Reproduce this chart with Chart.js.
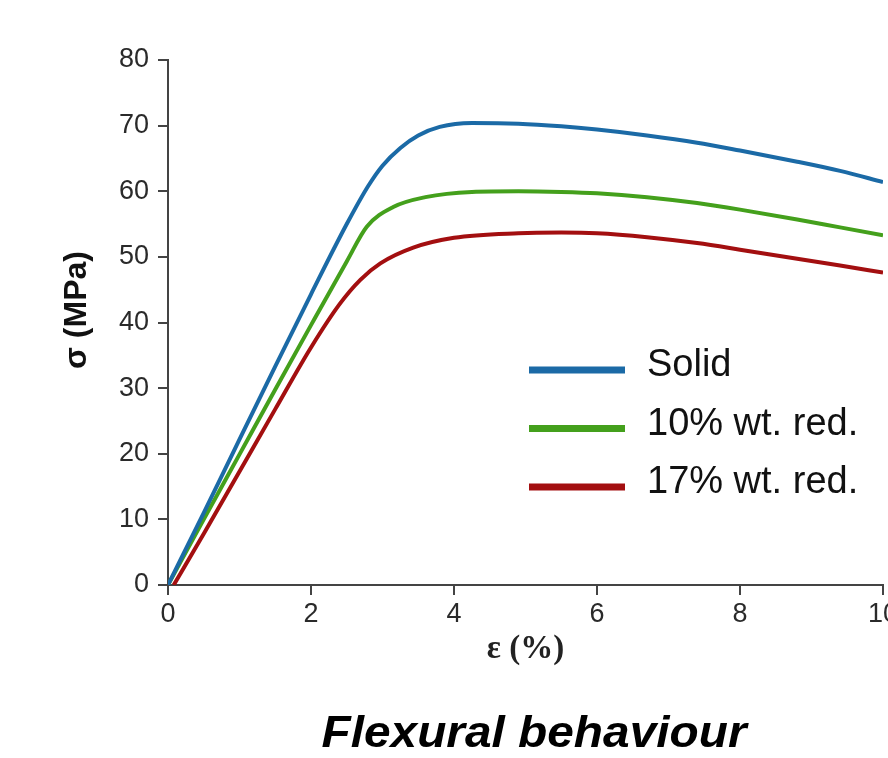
<!DOCTYPE html>
<html>
<head>
<meta charset="utf-8">
<script src="https://cdn.jsdelivr.net/npm/chart.js@4.4.1/dist/chart.umd.min.js"></script>
<style>
  html, body { margin: 0; padding: 0; background: #fff; overflow: hidden; }
  #wrap { position: relative; width: 930px; height: 758px; }
</style>
</head>
<body>
<div id="wrap"><canvas id="myChart"></canvas></div>
<script>
// values
var solidStrain = [0, 0.5, 1, 1.5, 2, 2.5, 2.8, 3, 3.25, 3.5, 3.8, 4.25, 4.9, 5.5, 6, 6.7, 7.4, 8, 8.8, 9.4, 10];
var solidStress = [0, 11, 22.2, 33.3, 44.3, 55, 60.8, 63.9, 66.6, 68.5, 69.8, 70.4, 70.3, 69.9, 69.4, 68.5, 67.4, 66.2, 64.5, 63.1, 61.4];

var tenStrain = [0, 0.5, 1, 1.5, 2, 2.5, 2.78, 3.15, 3.6, 4.25, 4.9, 5.5, 6, 6.7, 7.4, 8, 8.8, 9.4, 10];
var tenStress = [0, 10, 19.9, 29.8, 39.6, 49.3, 54.6, 57.6, 59.1, 59.9, 60, 59.9, 59.7, 59.1, 58.2, 57.2, 55.7, 54.5, 53.3];

var seventeenStrain = [0.08, 0.5, 1, 1.5, 2, 2.4, 2.69, 2.97, 3.43, 4, 4.9, 5.5, 6, 6.7, 7.4, 8, 8.8, 9.4, 10];
var seventeenStress = [0, 7.8, 17.3, 26.8, 36.2, 42.8, 46.5, 49, 51.4, 52.9, 53.6, 53.7, 53.6, 53.0, 52.1, 51.1, 49.7, 48.7, 47.6];

var seriesLabels = ["Solid", "10% wt. red.", "17% wt. red."];
var seriesColors = ["#1b6aa6", "#44a01c", "#a30f10"];
var xTicks = [0, 2, 4, 6, 8, 10];
var yTicks = [0, 10, 20, 30, 40, 50, 60, 70, 80];
var chartTitle = "Flexural behaviour";
var yTitle = "σ (MPa)";

function pairs(xs, ys) {
  var out = [];
  for (var i = 0; i < xs.length; i++) {
    out.push({x: xs[i], y: ys[i]});
  }
  return out;
}

var allData = [
  pairs(solidStrain, solidStress),
  pairs(tenStrain, tenStress),
  pairs(seventeenStrain, seventeenStress)
];

var datasets = [];
for (var i = 0; i < allData.length; i++) {
  datasets.push({
    label: seriesLabels[i],
    data: allData[i],
    borderColor: seriesColors[i],
    backgroundColor: seriesColors[i],
    borderWidth: 4,
    pointRadius: 0,
    fill: false,
    cubicInterpolationMode: 'monotone'
  });
}

// legend inside the plot, y title and the caption, placed like the figure
var extras = {
  id: 'extras',
  afterDraw: function(chart) {
    var ctx = chart.ctx;
    ctx.save();
    chart.data.datasets.forEach(function(ds, k) {
      var y = 370 + k * 58.5;
      ctx.strokeStyle = ds.borderColor;
      ctx.lineWidth = 7;
      ctx.beginPath();
      ctx.moveTo(529, y);
      ctx.lineTo(625, y);
      ctx.stroke();
      ctx.fillStyle = '#111';
      ctx.font = '38px "Liberation Sans", Arial, sans-serif';
      ctx.textBaseline = 'middle';
      ctx.textAlign = 'left';
      ctx.fillText(ds.label, 647, y - 4);
    });
    ctx.restore();

    // y axis title
    ctx.save();
    ctx.translate(77, 310);
    ctx.rotate(-Math.PI / 2);
    ctx.font = 'bold 32px "Liberation Sans", Arial, sans-serif';
    ctx.fillStyle = '#111';
    ctx.textAlign = 'center';
    ctx.textBaseline = 'middle';
    ctx.fillText(yTitle, 0, 0);
    ctx.restore();

    // caption
    ctx.save();
    ctx.font = 'italic bold 44px "Liberation Sans", Arial, sans-serif';
    ctx.fillStyle = '#000';
    ctx.textBaseline = 'alphabetic';
    ctx.textAlign = 'center';
    var w = ctx.measureText(chartTitle).width;
    ctx.translate(534, 747);
    ctx.scale(425 / w, 1);
    ctx.fillText(chartTitle, 0, 0);
    ctx.restore();
  }
};

new Chart("myChart", {
  type: "line",
  data: { datasets: datasets },
  plugins: [extras],
  options: {
    responsive: true,
    maintainAspectRatio: false,
    animation: false,
    layout: { padding: { left: 0, top: 60, right: 47, bottom: 0 } },
    plugins: {
      legend: { display: false },
      tooltip: { enabled: false },
      title: { display: false }
    },
    scales: {
      x: {
        type: 'linear',
        min: 0,
        max: 10,
        afterBuildTicks: function(scale) {
          scale.ticks = xTicks.map(function(v) { return {value: v}; });
        },
        afterFit: function(scale) { scale.height = 173; },
        grid: { drawOnChartArea: false, drawTicks: true, tickLength: 10, color: '#444', lineWidth: 2 },
        border: { display: true, color: '#444', width: 2 },
        ticks: {
          color: '#2a2a2a',
          padding: 3,
          maxRotation: 0,
          font: { family: '"Liberation Sans", Arial, sans-serif', size: 27 }
        },
        title: {
          display: true,
          text: "ε (%)",
          color: '#222',
          font: { family: '"Liberation Serif", "Times New Roman", serif', size: 33, weight: 'bold', lineHeight: 1.2 },
          padding: { top: 0, bottom: 89 }
        }
      },
      y: {
        min: 0,
        max: 80,
        afterBuildTicks: function(scale) {
          scale.ticks = yTicks.map(function(v) { return {value: v}; });
        },
        afterFit: function(scale) { scale.width = 168; },
        grid: { drawOnChartArea: false, drawTicks: true, tickLength: 10, color: '#444', lineWidth: 2 },
        border: { display: true, color: '#444', width: 2 },
        ticks: {
          color: '#2a2a2a',
          padding: 9,
          font: { family: '"Liberation Sans", Arial, sans-serif', size: 27 }
        },
        title: { display: false }
      }
    }
  }
});
</script>
</body>
</html>
